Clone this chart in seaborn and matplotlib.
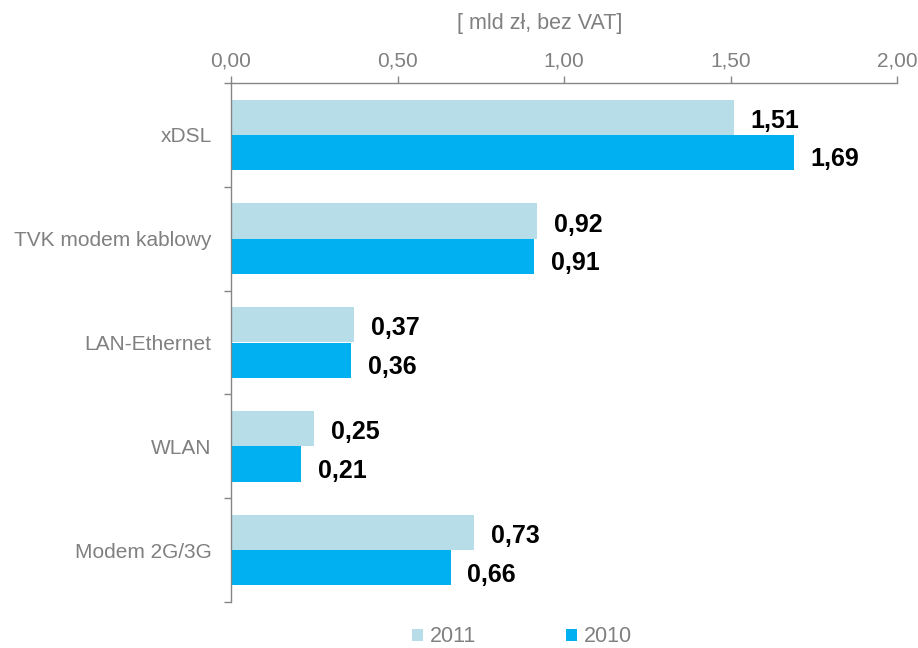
import matplotlib
matplotlib.use("Agg")
import matplotlib.pyplot as plt
from matplotlib.patches import Patch
import seaborn as sns
import pandas as pd

categories = ["xDSL", "TVK modem kablowy", "LAN-Ethernet", "WLAN", "Modem 2G/3G"]
values_2011 = [1.51, 0.92, 0.37, 0.25, 0.73]
values_2010 = [1.69, 0.91, 0.36, 0.21, 0.66]
years = ["2011", "2010"]
x_ticks = [0.0, 0.5, 1.0, 1.5, 2.0]
x_tick_labels = ["0,00", "0,50", "1,00", "1,50", "2,00"]
axis_title = "[ mld zł, bez VAT]"

colors = {"2011": "#B7DDE8", "2010": "#00B0F0"}
gray = "#808080"
spine_gray = "#868686"

df = pd.DataFrame({
    "category": categories * 2,
    "year": ["2011"] * len(categories) + ["2010"] * len(categories),
    "value": values_2011 + values_2010,
})

sns.set_style("white")
plt.rcParams["font.family"] = ["Liberation Sans", "DejaVu Sans"]

fig = plt.figure(figsize=(9.18, 6.48), dpi=100)
ax_left, ax_right, ax_top, ax_bottom = 231, 897, 83, 602
ax = fig.add_axes([ax_left / 918, 1 - ax_bottom / 648,
                   (ax_right - ax_left) / 918, (ax_bottom - ax_top) / 648])

sns.barplot(data=df, y="category", x="value", hue="year", hue_order=years,
            order=categories, palette=colors, orient="h", width=0.68,
            saturation=1, ax=ax, legend=False, edgecolor="none")

ax.set_xlim(0, 2.0)
ax.set_ylim(len(categories) - 0.5, -0.5)

ax.xaxis.tick_top()
ax.set_xticks(x_ticks)
ax.set_xticklabels(x_tick_labels)
ax.xaxis.set_label_position("top")
ax.set_xlabel(axis_title, fontsize=15.5, color=gray)
ax.xaxis.set_label_coords((540 - ax_left) / (ax_right - ax_left),
                          (ax_bottom - 24) / (ax_bottom - ax_top))
ax.xaxis.label.set_va("center")
ax.set_ylabel("")

ax.tick_params(axis="x", which="major", top=True, bottom=False, length=5,
               width=1, color=spine_gray, labelsize=15, labelcolor=gray, pad=4,
               direction="out")
ax.set_yticks(range(len(categories)))
ax.set_yticklabels(categories)
ax.tick_params(axis="y", which="major", left=True, length=0, labelsize=15,
               labelcolor=gray, pad=14)
ax.set_yticks([i - 0.5 for i in range(len(categories) + 1)], minor=True)
ax.tick_params(axis="y", which="minor", left=True, length=5, width=1,
               color=spine_gray, direction="out")

for side in ["right", "bottom"]:
    ax.spines[side].set_visible(False)
for side in ["top", "left"]:
    ax.spines[side].set_visible(True)
    ax.spines[side].set_color(spine_gray)
    ax.spines[side].set_linewidth(1)

# value labels: 2011 slightly below bar centre, 2010 a bit more
drops = {0: 2.5, 1: 5.0}
for ci, container in enumerate(ax.containers):
    for bar in container:
        w = bar.get_width()
        yc = bar.get_y() + bar.get_height() / 2
        ax.annotate(f"{w:.2f}".replace(".", ","), xy=(w, yc),
                    xytext=(12, -drops[ci]), textcoords="offset points",
                    ha="left", va="center", fontsize=18, fontweight="bold",
                    color="black")

handles = [Patch(facecolor=colors[y], edgecolor="none", label=y) for y in years]
fig.legend(handles=handles, loc="center", bbox_to_anchor=(522 / 918, 1 - 637 / 648),
           ncol=2, frameon=False, fontsize=15.5, labelcolor=gray,
           handlelength=0.5, handleheight=0.5, handletextpad=0.3,
           columnspacing=4.2)

fig.savefig("out.png", dpi=100)
